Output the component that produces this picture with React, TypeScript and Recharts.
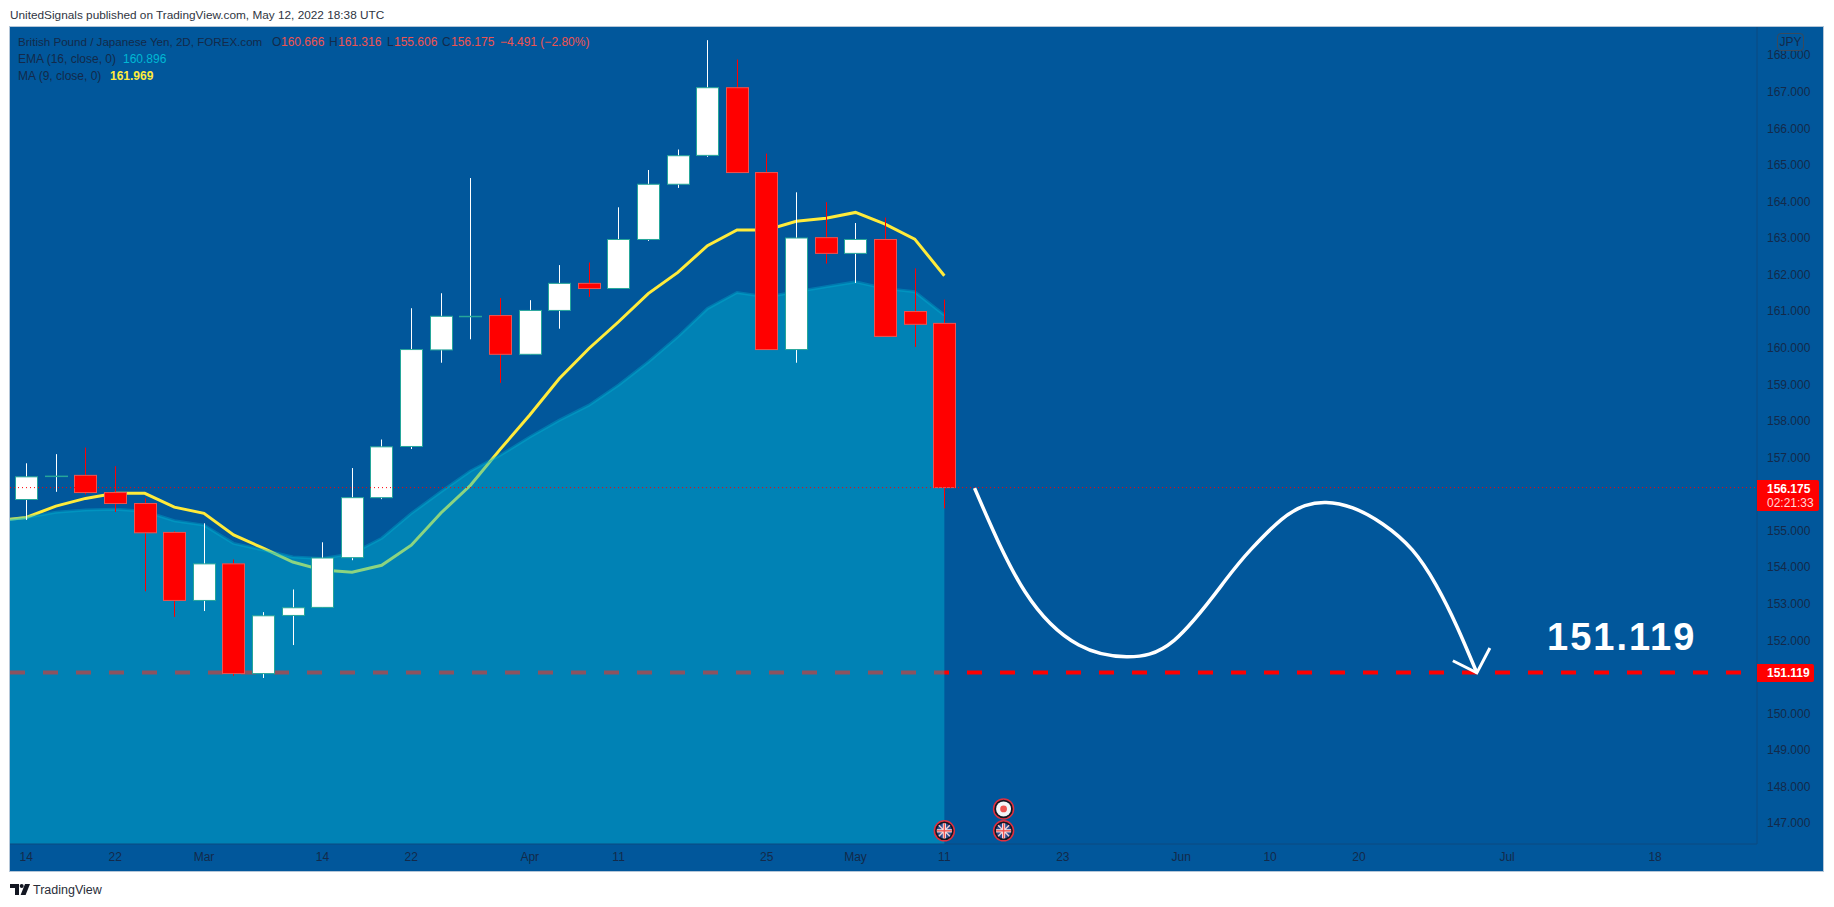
import React from 'react';
import { ComposedChart, XAxis, YAxis, Line, Area, Bar, ReferenceDot } from 'recharts';

// ---- candles (2D GBP/JPY) ----
const opens = [155.85, 156.49, 156.51, 156.04, 155.74, 154.95, 153.09, 154.09, 151.09, 152.68, 152.90, 154.26, 155.90, 157.30, 159.94, 160.86, 160.88, 159.82, 161.02, 161.76, 161.62, 162.96, 164.47, 165.26, 167.11, 164.79, 159.95, 163.01, 162.58, 162.96, 160.99, 160.666];
const highs = [156.84, 157.09, 157.27, 156.76, 155.88, 154.98, 155.20, 154.21, 152.77, 153.39, 154.68, 156.71, 157.49, 161.08, 161.49, 164.64, 161.36, 161.30, 162.26, 162.33, 163.84, 164.86, 165.42, 168.41, 167.88, 165.31, 164.25, 163.98, 163.41, 163.56, 162.17, 161.316];
const lows = [155.29, 156.06, 155.99, 155.51, 153.34, 152.64, 152.80, 151.03, 150.97, 151.87, 152.90, 154.19, 155.86, 157.23, 159.59, 160.23, 159.04, 159.82, 160.52, 161.39, 161.62, 162.92, 164.37, 165.22, 164.79, 159.95, 159.59, 162.30, 161.77, 160.31, 160.02, 155.606];
const closes = [156.47, 156.49, 156.04, 155.74, 154.94, 153.09, 154.09, 151.09, 152.67, 152.89, 154.25, 155.90, 157.29, 159.95, 160.86, 160.86, 159.82, 161.02, 161.76, 161.62, 162.96, 164.47, 165.25, 167.11, 164.79, 159.95, 163.00, 162.58, 162.96, 160.31, 160.64, 156.175];

// ---- indicators, starting one bar before the first candle ----
const maValues = [155.27, 155.36, 155.67, 155.88, 156.02, 156.02, 155.64, 155.47, 154.88, 154.52, 154.14, 153.92, 153.86, 154.05, 154.60, 155.48, 156.24, 157.22, 158.16, 159.16, 159.98, 160.71, 161.48, 162.06, 162.79, 163.22, 163.22, 163.46, 163.54, 163.70, 163.38, 162.97, 161.969];
const emaValues = [155.26, 155.36, 155.50, 155.56, 155.58, 155.53, 155.27, 155.15, 154.65, 154.47, 154.28, 154.24, 154.37, 154.79, 155.47, 156.06, 156.63, 157.06, 157.56, 158.02, 158.43, 158.98, 159.61, 160.30, 161.07, 161.51, 161.39, 161.53, 161.67, 161.80, 161.62, 161.53, 160.896];

// ---- axes ----
const xTickBars = [0, 3, 6, 10, 13, 17, 20, 25, 28, 31, 35, 39, 42, 45, 50, 55];
const xTickLabels = ['14', '22', 'Mar', '14', '22', 'Apr', '11', '25', 'May', '11', '23', 'Jun', '10', '20', 'Jul', '18'];
const yTicks = [147, 148, 149, 150, 152, 153, 154, 155, 157, 158, 159, 160, 161, 162, 163, 164, 165, 166, 167, 168];

// ---- drawing on the chart ----
const curveBars = [32.02, 33.73, 35.54, 37.15, 38.76, 40.47, 41.37, 42.38, 43.18, 43.89, 44.79, 45.80, 46.80, 47.61, 48.31, 48.98];
const curvePrices = [156.16, 153.32, 151.87, 151.55, 152.00, 153.62, 154.50, 155.30, 155.68, 155.77, 155.62, 155.18, 154.47, 153.50, 152.37, 151.11];
const arrowBars = [48.17, 48.98, 49.42];
const arrowPrices = [151.44, 151.11, 151.79];

const targetPrice = 151.119;
const lastPrice = 156.175;
const targetLineBars = [-0.55, 57.95];
const lastLineBars = [-0.55, 58.44];
const flagEvents = [{ bar: 31, price: 146.79 }, { bar: 33, price: 146.79 }];
const japanEvents = [{ bar: 33, price: 147.39 }];

const candles = opens.map((o, i) => ({ bar: i, o, h: highs[i], l: lows[i], c: closes[i], range: [lows[i], highs[i]] }));
const maRows = maValues.map((v, i) => ({ bar: i - 1, v }));
const emaRows = emaValues.map((v, i) => ({ bar: i - 1, v }));
const curveRows = curveBars.map((bar, i) => ({ bar, v: curvePrices[i] }));
const arrowRows = arrowBars.map((bar, i) => ({ bar, v: arrowPrices[i] }));
const targetRows = targetLineBars.map((bar) => ({ bar, v: targetPrice }));
const lastRows = lastLineBars.map((bar) => ({ bar, v: lastPrice }));

const PANEL = '#01579B';
const INK = '#132A4A';
const SANS = '"Liberation Sans", Arial, sans-serif';
const BODY_WIDTH = 22;

const Candle = (props: any) => {
  const { x, y, width, height, payload } = props;
  const { o, h, l, c } = payload;
  const k = height / (h - l);
  const up = c >= o;
  const cx = Math.round(x + width / 2) + 0.5;
  const top = y + (h - Math.max(o, c)) * k;
  const bot = y + (h - Math.min(o, c)) * k;
  const wick = up ? '#FFFFFF' : '#FF0000';
  const border = up ? '#26A69A' : '#EF5350';
  const fill = up ? '#FFFFFF' : '#FF0000';
  const left = cx - BODY_WIDTH / 2;
  return (
    <g>
      <line x1={cx} x2={cx} y1={y} y2={y + height} stroke={wick} strokeWidth={1} />
      <rect x={left} y={top} width={BODY_WIDTH} height={Math.max(bot - top, 0.5)} fill={fill} stroke={border} strokeWidth={1} />
    </g>
  );
};

const Flag = ({ cx, cy }: any) => (
  <g>
    <circle cx={cx} cy={cy} r={10} fill="#131722" stroke="#E0303F" strokeWidth={1.5} />
    <circle cx={cx} cy={cy} r={7.5} fill="#2A4A8C" />
    <line x1={cx - 5.5} x2={cx + 5.5} y1={cy - 5.5} y2={cy + 5.5} stroke="#F3C9CE" strokeWidth={1.5} />
    <line x1={cx - 5.5} x2={cx + 5.5} y1={cy + 5.5} y2={cy - 5.5} stroke="#F3C9CE" strokeWidth={1.5} />
    <line x1={cx - 7.5} x2={cx + 7.5} y1={cy} y2={cy} stroke="#F8E8EA" strokeWidth={3.2} />
    <line x1={cx} x2={cx} y1={cy - 7.5} y2={cy + 7.5} stroke="#F8E8EA" strokeWidth={3.2} />
    <line x1={cx - 7.5} x2={cx + 7.5} y1={cy} y2={cy} stroke="#EF5350" strokeWidth={1.4} />
    <line x1={cx} x2={cx} y1={cy - 7.5} y2={cy + 7.5} stroke="#EF5350" strokeWidth={1.4} />
  </g>
);

const JapanFlag = ({ cx, cy }: any) => (
  <g>
    <circle cx={cx} cy={cy} r={10} fill="#131722" stroke="#E0303F" strokeWidth={1.5} />
    <circle cx={cx} cy={cy} r={7.5} fill="#F4F5F8" />
    <circle cx={cx} cy={cy} r={3.4} fill="#EF5350" />
  </g>
);

const abs = (left: number, top: number, extra: React.CSSProperties = {}): React.CSSProperties => ({
  position: 'absolute', left, top, whiteSpace: 'nowrap', fontFamily: SANS, ...extra,
});

const tickStyle = { fill: INK, fontSize: 12, fontFamily: SANS };

export default function App() {
  const legend = { fontSize: 12, lineHeight: '14px', color: INK };
  const red = { fontSize: 12, lineHeight: '14px', color: '#EF5350' };
  return (
    <div style={{ position: 'absolute', left: 0, top: 0, width: 1834, height: 907, background: '#FFFFFF', overflow: 'hidden' }}>
      <div style={{ position: 'absolute', left: 9, top: 26, width: 1813, height: 844, background: PANEL, border: '1px solid #B4C6D8' }} />

      <div style={{ position: 'absolute', left: 0, top: 0 }}>
        <ComposedChart width={1834} height={907} data={candles} margin={{ top: 27, right: 10, bottom: 36, left: 10 }}>
          <XAxis
            dataKey="bar" type="number" scale="linear" domain={[-0.55, 58.44]} allowDataOverflow
            ticks={xTickBars} interval={0} height={27} tickSize={0} tickMargin={8}
            tickFormatter={(v: number) => xTickLabels[xTickBars.indexOf(v)]}
            tick={tickStyle} axisLine={{ stroke: '#0C4A80' }}
          />
          <YAxis
            orientation="right" type="number" domain={[146.43, 168.77]} allowDataOverflow
            ticks={yTicks} interval={0} width={67} tickSize={0} tickMargin={10}
            tickFormatter={(v: number) => v.toFixed(3)}
            tick={{ ...tickStyle, textAnchor: 'start' }} axisLine={{ stroke: '#0C4A80' }}
          />

          <Line {...({ zIndex: 110 } as any)} data={targetRows} dataKey="v" type="linear" stroke="#FF0000" strokeWidth={4} strokeDasharray="15 18" dot={false} activeDot={false} isAnimationActive={false} />
          <Line {...({ zIndex: 120 } as any)} data={maRows} dataKey="v" type="linear" stroke="#FFEB3B" strokeWidth={3} dot={false} activeDot={false} isAnimationActive={false} />
          <Area {...({ zIndex: 130 } as any)} data={emaRows} dataKey="v" type="linear" stroke="#00B8D4" strokeOpacity={0.35} strokeWidth={3} fill="#00B8D4" fillOpacity={0.45} dot={false} activeDot={false} isAnimationActive={false} />
          <Bar {...({ zIndex: 140 } as any)} dataKey="range" barSize={22} shape={Candle} isAnimationActive={false} />

          <Line {...({ zIndex: 150 } as any)} data={lastRows} dataKey="v" type="linear" stroke="#FF0000" strokeWidth={1} strokeDasharray="1 3" dot={false} activeDot={false} isAnimationActive={false} />
          <Line {...({ zIndex: 160 } as any)} data={curveRows} dataKey="v" type="natural" stroke="#FFFFFF" strokeWidth={3.5} dot={false} activeDot={false} isAnimationActive={false} />
          <Line {...({ zIndex: 160 } as any)} data={arrowRows} dataKey="v" type="linear" stroke="#FFFFFF" strokeWidth={3} dot={false} activeDot={false} isAnimationActive={false} />

          {flagEvents.map((e) => (
            <ReferenceDot key={e.bar} x={e.bar} y={e.price} ifOverflow="visible" shape={Flag} />
          ))}
          {japanEvents.map((e) => (
            <ReferenceDot key={e.bar} x={e.bar} y={e.price} ifOverflow="visible" shape={JapanFlag} />
          ))}
        </ComposedChart>
      </div>

      <div style={abs(10, 8, { fontSize: 11.8, lineHeight: '14px', color: '#2F3542' })}>UnitedSignals published on TradingView.com, May 12, 2022 18:38 UTC</div>

      <div style={abs(18, 35, { ...legend, fontSize: 11.6 })}>British Pound / Japanese Yen, 2D, FOREX.com</div>
      <div style={abs(272, 35, legend)}>O</div>
      <div style={abs(281, 35, red)}>160.666</div>
      <div style={abs(329, 35, legend)}>H</div>
      <div style={abs(338, 35, red)}>161.316</div>
      <div style={abs(387, 35, legend)}>L</div>
      <div style={abs(394, 35, red)}>155.606</div>
      <div style={abs(442, 35, legend)}>C</div>
      <div style={abs(451, 35, red)}>156.175</div>
      <div style={abs(500, 35, red)}>−4.491 (−2.80%)</div>
      <div style={abs(18, 52, legend)}>EMA (16, close, 0)</div>
      <div style={abs(123, 52, { ...legend, color: '#00B8D4' })}>160.896</div>
      <div style={abs(18, 69, legend)}>MA (9, close, 0)</div>
      <div style={abs(110, 69, { ...legend, color: '#FFEB3B', fontWeight: 700 })}>161.969</div>

      <div style={abs(1777, 33, { width: 27, height: 18, boxSizing: 'border-box', border: '1px solid #3A4A5C', borderRadius: 4, fontSize: 12, lineHeight: '16px', textAlign: 'center', color: INK, background: PANEL })}>JPY</div>

      <div style={abs(1757, 480, { width: 62, height: 31, background: '#FF0000', borderRadius: '0 2px 2px 0', fontSize: 12, fontWeight: 700, lineHeight: '14px', color: '#FFFFFF', paddingTop: 2, boxSizing: 'border-box', textIndent: 10 })}>
        <div>156.175</div>
        <div style={{ color: '#FFD6D6', fontWeight: 400 }}>02:21:33</div>
      </div>
      <div style={abs(1757, 664, { width: 57, height: 18, background: '#FF0000', borderRadius: '0 2px 2px 0', fontSize: 12, fontWeight: 700, lineHeight: '18px', color: '#FFFFFF', textIndent: 10 })}>151.119</div>

      <div style={abs(1547, 615, { fontSize: 38, lineHeight: '44px', fontWeight: 700, color: '#FFFFFF', letterSpacing: 2 })}>151.119</div>

      <svg style={{ position: 'absolute', left: 10, top: 884 }} width={22} height={12} viewBox="0 0 22 12">
        <path d="M0 0h9v11H5V4H0z" fill="#131722" />
        <circle cx={11.7} cy={2} r={2} fill="#131722" />
        <path d="M15 0h5l-4.4 11h-5z" fill="#131722" />
      </svg>
      <div style={abs(33, 883, { fontSize: 12.5, lineHeight: '14px', color: '#2A2E39' })}>TradingView</div>
    </div>
  );
}
